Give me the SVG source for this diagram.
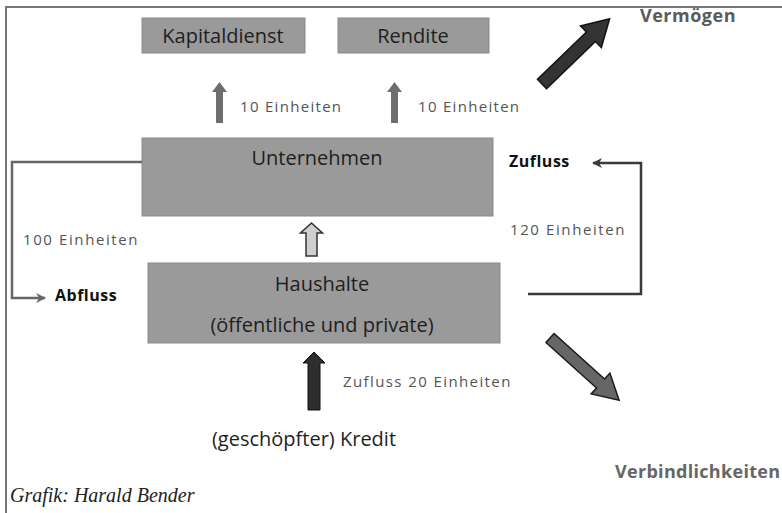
<svg xmlns="http://www.w3.org/2000/svg" width="782" height="513" viewBox="0 0 782 513">
<defs>
<style>
.box{fill:#9a9a9a;stroke:#8a8a8a;stroke-width:1}
.bt{font-family:"Open Sans","DejaVu Sans",sans-serif;font-size:20px;fill:#1e1e1e;text-anchor:middle}
.lbl{font-family:"Open Sans","DejaVu Sans",sans-serif;font-size:15px;fill:#555;letter-spacing:1.4px}
.bold{font-family:"Open Sans","DejaVu Sans",sans-serif;font-size:16px;font-weight:bold;fill:#111;letter-spacing:0.5px}
.side{font-family:"Open Sans","DejaVu Sans",sans-serif;font-size:18px;font-weight:bold;fill:#5a5a5a;letter-spacing:0.5px}
.conn{fill:none;stroke-width:2.5}
</style>
<marker id="ahL" viewBox="0 0 10 10" refX="9" refY="5" markerWidth="4" markerHeight="4" orient="auto" markerUnits="strokeWidth">
<path d="M0,0 L10,5 L0,10 L3,5 Z" fill="#666"/>
</marker>
<marker id="ahR" viewBox="0 0 10 10" refX="9" refY="5" markerWidth="4" markerHeight="4" orient="auto" markerUnits="strokeWidth">
<path d="M0,0 L10,5 L0,10 L3,5 Z" fill="#3a3a3a"/>
</marker>
</defs>
<rect x="0" y="0" width="782" height="513" fill="#fff"/>
<path d="M6,513 V7 H782" fill="none" stroke="#777" stroke-width="2"/>

<g id="kapitaldienst">
<rect class="box" x="142" y="18" width="163" height="35"/>
<text class="bt" x="223" y="43">Kapitaldienst</text>
</g>
<g id="rendite">
<rect class="box" x="338" y="18" width="151" height="35"/>
<text class="bt" x="413" y="43">Rendite</text>
</g>
<g id="unternehmen">
<rect class="box" x="142" y="138" width="351" height="78"/>
<text class="bt" x="317" y="165">Unternehmen</text>
</g>
<g id="haushalte">
<rect class="box" x="148" y="263" width="352" height="80"/>
<text class="bt" x="322" y="291">Haushalte</text>
<text class="bt" x="322" y="332">(öffentliche und private)</text>
</g>
<g id="vermoegen">
<text class="side" x="640" y="22">Vermögen</text>
</g>
<g id="verbindlichkeiten">
<text class="side" x="615" y="478" style="fill:#666;letter-spacing:0.3px">Verbindlichkeiten</text>
</g>
<g id="kredit">
<text class="bt" x="304" y="446" fill="#222">(geschöpfter) Kredit</text>
</g>
<g id="credit">
<text x="10" y="502" font-family="'Liberation Serif',serif" font-style="italic" font-size="20" fill="#222">Grafik: Harald Bender</text>
</g>

<g id="connectors">
<path d="M216,123 V92 H212 L219.5,82 L227,92 H223 V123 Z" fill="#6e6e6e"/>
<path d="M391,123 V92 H387 L394.5,82 L402,92 H398 V123 Z" fill="#6e6e6e"/>
<text class="lbl" x="240" y="112" style="letter-spacing:1.3px">10 Einheiten</text>
<text class="lbl" x="418" y="112" style="letter-spacing:1.3px">10 Einheiten</text>
<path d="M306,256 V233 H300.5 L311.5,223 L322.5,233 H317 V256 Z" fill="#cfcfcf" stroke="#333" stroke-width="1.5"/>
<path d="M308,410 V363 H303 L314,352 L325,363 H320 V410 Z" fill="#2e2e2e" stroke="#111" stroke-width="1"/>
<text class="lbl" x="343" y="387">Zufluss 20 Einheiten</text>
<path class="conn" d="M142,162 H12 V298 H45" stroke="#666" marker-end="url(#ahL)"/>
<text class="lbl" x="23" y="245" style="letter-spacing:1.6px">100 Einheiten</text>
<text class="bold" x="55" y="301">Abfluss</text>
<path class="conn" d="M528,294 H641 V163 H593" stroke="#3a3a3a" marker-end="url(#ahR)"/>
<text class="bold" x="509" y="167">Zufluss</text>
<text class="lbl" x="510" y="235" style="letter-spacing:1.6px">120 Einheiten</text>
<g transform="translate(542,84) rotate(-44)">
<path d="M0,-6.5 H68 V-15 L94,0 L68,15 V6.5 H0 Z" fill="#333" stroke="#111" stroke-width="1.5"/>
</g>
<g transform="translate(550,338) rotate(42)">
<path d="M0,-6 H68 V-14 L93,0 L68,14 V6 H0 Z" fill="#666" stroke="#1a1a1a" stroke-width="1.5"/>
</g>
</g>
</svg>
